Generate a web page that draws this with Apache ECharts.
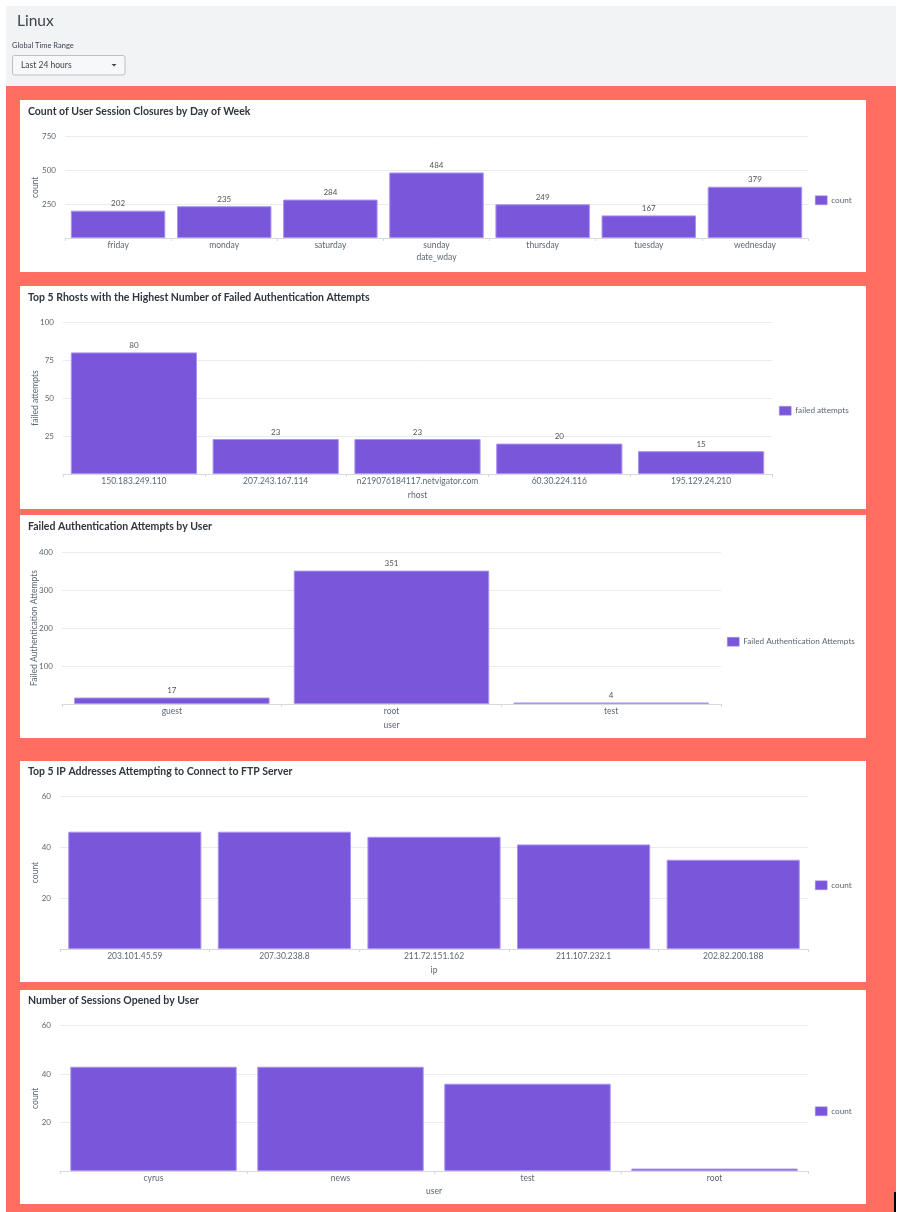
<!DOCTYPE html>
<html>
<head>
<meta charset="utf-8">
<script src="https://cdn.jsdelivr.net/npm/echarts@6/dist/echarts.min.js"></script>
<style>
html,body{margin:0;padding:0;background:#fff;}
#wrap{position:relative;width:904px;height:1212px;overflow:hidden;}
.bg{position:absolute;}
#c{position:absolute;left:0;top:0;width:904px;height:1212px;}
</style>
</head>
<body>
<div id="wrap">
  <div class="bg" style="left:6px;top:6px;width:890px;height:80px;background:#F2F3F5"></div>
  <div class="bg" style="left:6px;top:86px;width:890px;height:1126px;background:#FF6E61"></div>
  <div class="bg" style="left:20px;top:100px;width:846px;height:172px;background:#fff"></div>
  <div class="bg" style="left:20px;top:286px;width:846px;height:223px;background:#fff"></div>
  <div class="bg" style="left:20px;top:515px;width:846px;height:223px;background:#fff"></div>
  <div class="bg" style="left:20px;top:761px;width:846px;height:221px;background:#fff"></div>
  <div class="bg" style="left:20px;top:990px;width:846px;height:214px;background:#fff"></div>
  <div class="bg" style="left:894px;top:1192px;width:2px;height:20px;background:#000"></div>
  <div id="c"></div>
</div>
<script>
// ---- data ----
const dayCategories = ['friday','monday','saturday','sunday','thursday','tuesday','wednesday'];
const closureCounts = [202,235,284,484,249,167,379];

const rhostCategories = ['150.183.249.110','207.243.167.114','n219076184117.netvigator.com','60.30.224.116','195.129.24.210'];
const rhostFailed = [80,23,23,20,15];

const authUserCategories = ['guest','root','test'];
const authUserFailed = [17,351,4];

const ftpIpCategories = ['203.101.45.59','207.30.238.8','211.72.151.162','211.107.232.1','202.82.200.188'];
const ftpCounts = [46,46,44,41,35];

const sessionUserCategories = ['cyrus','news','test','root'];
const sessionCounts = [43,43,36,1];

const panelTitles = [
  'Count of User Session Closures by Day of Week',
  'Top 5 Rhosts with the Highest Number of Failed Authentication Attempts',
  'Failed Authentication Attempts by User',
  'Top 5 IP Addresses Attempting to Connect to FTP Server',
  'Number of Sessions Opened by User'
];

// ---- styling / layout ----
const FONT = 'Lato';
const BAR = '#7A56DA';
const BAR_BORDER = '#A993F0';
const TICK = '#5c6773';

const panels = [
  {cats: dayCategories, vals: closureCounts, series: 'count', xName: 'date_wday', yName: 'count', max: 750, interval: 250, labels: true,
   grid: {left: 65, top: 136.5, width: 743, height: 101.5}, yGap: 25.5, xGap: 15, legend: {left: 815, top: 195.5}, titleTop: 106},
  {cats: rhostCategories, vals: rhostFailed, series: 'failed attempts', xName: 'rhost', yName: 'failed attempts', max: 100, interval: 25, labels: true,
   grid: {left: 63, top: 322, width: 709, height: 152}, yGap: 23.5, xGap: 17, legend: {left: 779, top: 406}, titleTop: 292},
  {cats: authUserCategories, vals: authUserFailed, series: 'Failed Authentication Attempts', xName: 'user', yName: 'Failed Authentication Attempts', max: 400, interval: 100, labels: true,
   grid: {left: 62, top: 552, width: 659, height: 152}, yGap: 23.5, xGap: 17, legend: {left: 727, top: 637}, titleTop: 521},
  {cats: ftpIpCategories, vals: ftpCounts, series: 'count', xName: 'ip', yName: 'count', max: 60, interval: 20, labels: false,
   grid: {left: 60, top: 796, width: 748, height: 153}, yGap: 20.5, xGap: 17, legend: {left: 815, top: 880.5}, titleTop: 766},
  {cats: sessionUserCategories, vals: sessionCounts, series: 'count', xName: 'user', yName: 'count', max: 60, interval: 20, labels: false,
   grid: {left: 60, top: 1025.5, width: 748, height: 145.5}, yGap: 20.5, xGap: 16, legend: {left: 815, top: 1106.5}, titleTop: 995}
];

const grid = [], xAxis = [], yAxis = [], series = [], legend = [], title = [];
const graphic = [
  {type: 'text', x: 17, y: 20.5, style: {text: 'Linux', font: '15.5px ' + FONT, fill: '#3c444d', textVerticalAlign: 'middle'}},
  {type: 'text', x: 12, y: 45.5, style: {text: 'Global Time Range', font: '7.5px ' + FONT, fill: '#3c444d', textVerticalAlign: 'middle'}},
  {type: 'rect', shape: {x: 12.5, y: 55.5, width: 112.5, height: 19.5, r: 2}, style: {fill: '#f7f8fa', stroke: '#b9c0c8', lineWidth: 1}},
  {type: 'text', x: 21, y: 65.5, style: {text: 'Last 24 hours', font: '8.5px ' + FONT, fill: '#3c444d', textVerticalAlign: 'middle'}, z: 2},
  {type: 'polygon', shape: {points: [[111.5, 64], [116.5, 64], [114, 66.5]]}, style: {fill: '#3c444d'}, z: 2}
];

panels.forEach((p, i) => {
  title.push({text: panelTitles[i], left: 28, top: p.titleTop, padding: 0,
    textStyle: {fontFamily: FONT, fontSize: 10.5, fontWeight: 'bold', color: '#2f363d'}});
  grid.push(Object.assign({containLabel: false}, p.grid));
  xAxis.push({
    type: 'category', gridIndex: i, data: p.cats,
    name: p.xName, nameLocation: 'middle', nameGap: p.xGap, nameMoveOverlap: false,
    nameTextStyle: {fontFamily: FONT, fontSize: 8.5, color: TICK},
    axisLine: {lineStyle: {color: '#d5d9de'}},
    axisTick: {show: true, length: 3, alignWithLabel: false, lineStyle: {color: '#d5d9de'}},
    axisLabel: {fontFamily: FONT, fontSize: 8.5, color: TICK, margin: 3, interval: 0}
  });
  yAxis.push({
    type: 'value', gridIndex: i, min: 0, max: p.max, interval: p.interval,
    name: p.yName, nameLocation: 'middle', nameGap: p.yGap, nameRotate: 90, nameMoveOverlap: false,
    nameTextStyle: {fontFamily: FONT, fontSize: 8.5, color: TICK},
    axisLine: {show: false}, axisTick: {show: false},
    axisLabel: {fontFamily: FONT, fontSize: 8, color: TICK, margin: 9, showMinLabel: false},
    splitLine: {lineStyle: {color: '#e9ecef', width: 1}}
  });
  series.push({
    type: 'bar', name: p.series + '#' + i, xAxisIndex: i, yAxisIndex: i, data: p.vals,
    barCategoryGap: '11%',
    itemStyle: {color: BAR, borderColor: BAR_BORDER, borderWidth: 1},
    label: {show: p.labels, position: 'top', distance: 3, fontFamily: FONT, fontSize: 8, color: '#555'},
    emphasis: {disabled: true}
  });
  legend.push({
    data: [p.series + '#' + i], left: p.legend.left, top: p.legend.top, padding: 0,
    itemWidth: 12, itemHeight: 9, itemGap: 4, icon: 'rect', selectedMode: false,
    itemStyle: {borderWidth: 0.5},
    formatter: n => n.split('#')[0],
    textStyle: {fontFamily: FONT, fontSize: 8.2, color: TICK, padding: [0, 0, 0, -1]}
  });
});

const chart = echarts.init(document.getElementById('c'), null, {renderer: 'canvas'});
chart.setOption({
  animation: false,
  backgroundColor: 'transparent',
  title, grid, xAxis, yAxis, series, legend,
  graphic: {elements: graphic}
});
</script>
</body>
</html>
